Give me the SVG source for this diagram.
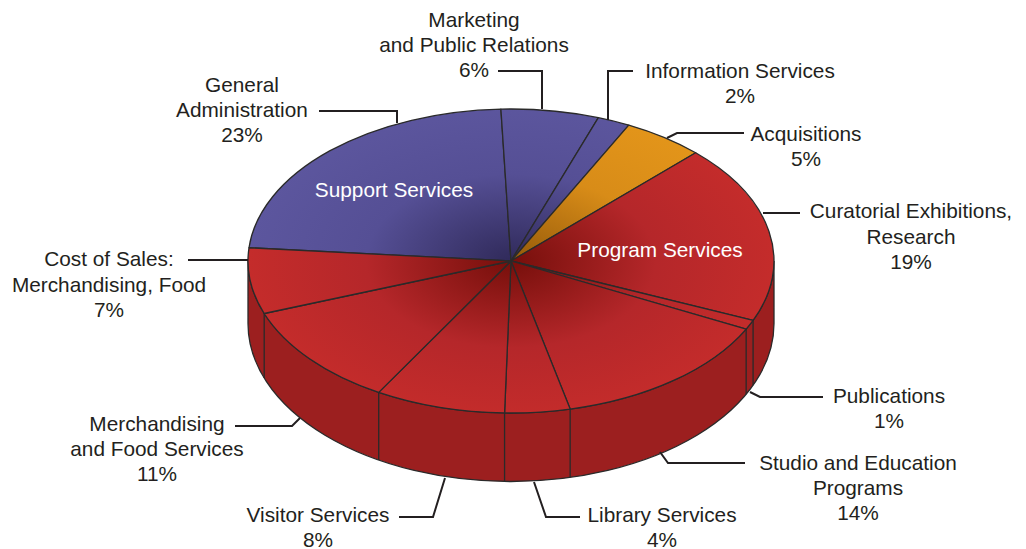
<svg xmlns="http://www.w3.org/2000/svg" width="1026" height="549" viewBox="0 0 1026 549">
<style>
text{font-family:"Liberation Sans",Arial,Helvetica,sans-serif;font-size:20.8px;fill:#231f20;text-anchor:middle}
.in{fill:#ffffff}
.sl{stroke:#2a2a2a;stroke-width:1.3;stroke-linejoin:round}
.red{fill:url(#gRed)}
.pur{fill:url(#gPur)}
.ora{fill:url(#gOra)}
.side{fill:#9c1f1f;stroke:#2a2a2a;stroke-width:1.3}
.edge{stroke:#2a2a2a;stroke-width:1.3;fill:none}
.ld{fill:none;stroke:#231f20;stroke-width:2}
</style>
<defs>
<radialGradient id="gRed" gradientUnits="userSpaceOnUse" cx="511" cy="261" r="263" gradientTransform="translate(511 261) scale(1 0.6) translate(-511 -261)">
<stop offset="0" stop-color="#760f0b"/>
<stop offset="0.55" stop-color="#b5272a"/>
<stop offset="1" stop-color="#c42c2b"/>
</radialGradient>
<radialGradient id="gPur" gradientUnits="userSpaceOnUse" cx="511" cy="261" r="263" gradientTransform="translate(511 261) scale(1 0.6) translate(-511 -261)">
<stop offset="0" stop-color="#302a5a"/>
<stop offset="0.55" stop-color="#554f95"/>
<stop offset="1" stop-color="#5c569e"/>
</radialGradient>
<radialGradient id="gOra" gradientUnits="userSpaceOnUse" cx="511" cy="261" r="263" gradientTransform="translate(511 261) scale(1 0.6) translate(-511 -261)">
<stop offset="0" stop-color="#955a0a"/>
<stop offset="0.55" stop-color="#d88c18"/>
<stop offset="1" stop-color="#e3951a"/>
</radialGradient>
</defs>
<rect width="1026" height="549" fill="#ffffff"/>

<g id="pie-side">
<path class="side" d="M 774 261 A 263 152 0 0 1 248 261 L 248 323.5 A 263 158 0 0 0 774 323.5 Z"/>
<path class="edge" d="M 753.09 320.39 V 385.2 M 746.16 329.06 V 394.2 M 570.16 409.1 V 477.5 M 504.57 412.95 V 481.5 M 378.71 392.37 V 460.1 M 264.18 313.49 V 378.1"/>
</g>

<g id="general-administration">
<path class="sl pur" d="M 511 261 L 249 247.75 A 263 152 0 0 1 500.9 109.11 Z"/>
<text x="242" y="92">General</text>
<text x="242" y="117">Administration</text>
<text x="242" y="142">23%</text>
</g>
<g id="marketing">
<path class="sl pur" d="M 511 261 L 500.9 109.11 A 263 152 0 0 1 598.36 117.63 Z"/>
<text x="474" y="27">Marketing</text>
<text x="474" y="52">and Public Relations</text>
<text x="474" y="77">6%</text>
</g>
<g id="information-services">
<path class="sl pur" d="M 511 261 L 598.36 117.63 A 263 152 0 0 1 628.76 125.09 Z"/>
<text x="740" y="78">Information Services</text>
<text x="740" y="103">2%</text>
</g>
<g id="acquisitions">
<path class="sl ora" d="M 511 261 L 628.76 125.09 A 263 152 0 0 1 695.67 152.77 Z"/>
<text x="806" y="141">Acquisitions</text>
<text x="806" y="166">5%</text>
</g>
<g id="curatorial">
<path class="sl red" d="M 511 261 L 695.67 152.77 A 263 152 0 0 1 753.09 320.39 Z"/>
<text x="911" y="218">Curatorial Exhibitions,</text>
<text x="911" y="244">Research</text>
<text x="911" y="269">19%</text>
</g>
<g id="publications">
<path class="sl red" d="M 511 261 L 753.09 320.39 A 263 152 0 0 1 746.16 329.06 Z"/>
<text x="889" y="403">Publications</text>
<text x="889" y="428">1%</text>
</g>
<g id="studio-education">
<path class="sl red" d="M 511 261 L 746.16 329.06 A 263 152 0 0 1 570.16 409.1 Z"/>
<text x="858" y="470">Studio and Education</text>
<text x="858" y="495">Programs</text>
<text x="858" y="520">14%</text>
</g>
<g id="library-services">
<path class="sl red" d="M 511 261 L 570.16 409.1 A 263 152 0 0 1 504.57 412.95 Z"/>
<text x="662" y="522">Library Services</text>
<text x="662" y="547">4%</text>
</g>
<g id="visitor-services">
<path class="sl red" d="M 511 261 L 504.57 412.95 A 263 152 0 0 1 378.71 392.37 Z"/>
<text x="318" y="522">Visitor Services</text>
<text x="318" y="547">8%</text>
</g>
<g id="merchandising-food">
<path class="sl red" d="M 511 261 L 378.71 392.37 A 263 152 0 0 1 264.18 313.49 Z"/>
<text x="157" y="431">Merchandising</text>
<text x="157" y="456">and Food Services</text>
<text x="157" y="481">11%</text>
</g>
<g id="cost-of-sales">
<path class="sl red" d="M 511 261 L 264.18 313.49 A 263 152 0 0 1 249 247.75 Z"/>
<text x="109" y="266">Cost of Sales:</text>
<text x="109" y="292">Merchandising, Food</text>
<text x="109" y="317">7%</text>
</g>

<g id="group-labels">
<text class="in" x="394" y="197">Support Services</text>
<text class="in" x="660" y="257">Program Services</text>
</g>

<g id="connectors">
<polyline class="ld" points="319,111 397,111 397,123"/>
<polyline class="ld" points="498,71 542,71 542,109"/>
<polyline class="ld" points="608,120 608,71 633,71"/>
<polyline class="ld" points="667,138 677,133 744,133"/>
<polyline class="ld" points="763,213 800,213"/>
<polyline class="ld" points="188,260 248,260"/>
<polyline class="ld" points="235,426 292,426 300,418"/>
<polyline class="ld" points="399,517 433,517 445,478"/>
<polyline class="ld" points="534,482 546,517 580,517"/>
<polyline class="ld" points="660,452 668,463 745,463"/>
<polyline class="ld" points="750,392 760,397 823,397"/>
</g>
</svg>
